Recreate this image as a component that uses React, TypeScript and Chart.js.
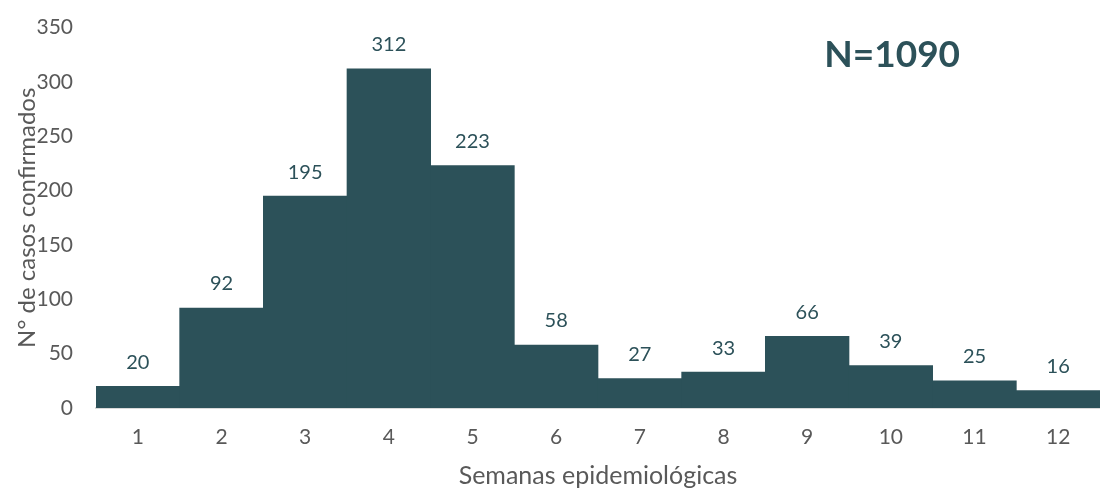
import React, { useEffect, useRef } from "react";
import { Chart, registerables } from "chart.js";

Chart.register(...registerables);

const weeks: string[] = ["1", "2", "3", "4", "5", "6", "7", "8", "9", "10", "11", "12"];
const cases: number[] = [20, 92, 195, 312, 223, 58, 27, 33, 66, 39, 25, 16];
const totalLabel = "N=1090";
const yTitle = "N° de casos confirmados";
const xTitle = "Semanas epidemiológicas";

const BAR = "#2C5159";
const GRAY = "#595959";
const FONT = "Lato, 'Open Sans', sans-serif";

const labelPlugin = {
  id: "valueLabels",
  afterDatasetsDraw(chart: any) {
    const { ctx } = chart;
    const meta = chart.getDatasetMeta(0);
    ctx.save();
    ctx.fillStyle = BAR;
    ctx.font = `20px ${FONT}`;
    ctx.textAlign = "center";
    ctx.textBaseline = "middle";
    meta.data.forEach((el: any, i: number) => {
      ctx.fillText(String(cases[i]), el.x, el.y - 24);
    });
    const area = chart.chartArea;
    ctx.font = `bold 37px ${FONT}`;
    ctx.fillText(totalLabel, area.left + (area.right - area.left) * 0.793, 55);
    ctx.restore();
  },
};

export default function App() {
  const ref = useRef<HTMLCanvasElement>(null);
  useEffect(() => {
    document.body.style.margin = "0";
    const chart = new Chart(ref.current!, {
      type: "bar",
      data: {
        labels: weeks,
        datasets: [
          {
            data: cases,
            backgroundColor: BAR,
            borderWidth: 0,
            barPercentage: 1,
            categoryPercentage: 1,
          },
        ],
      },
      options: {
        animation: false,
        responsive: false,
        maintainAspectRatio: false,
        layout: { padding: { top: 14, right: 0, left: 0, bottom: 0 } },
        plugins: { legend: { display: false }, tooltip: { enabled: false } },
        scales: {
          x: {
            grid: { display: false },
            border: { display: true, color: "#D9D9D9", width: 2 },
            ticks: { color: GRAY, font: { family: FONT, size: 21 }, padding: 9 },
            title: {
              display: true,
              text: xTitle,
              color: GRAY,
              font: { family: FONT, size: 25 },
              padding: { top: 0, bottom: -2 },
            },
            afterFit: (s: any) => {
              s.height = 81;
            },
          },
          y: {
            min: 0,
            max: 350,
            grid: { display: false },
            border: { display: false },
            ticks: { stepSize: 50, color: GRAY, font: { family: FONT, size: 21 }, padding: 15 },
            title: {
              display: true,
              text: yTitle,
              color: GRAY,
              font: { family: FONT, size: 24 },
              padding: { top: 13, bottom: 0 },
            },
            afterFit: (s: any) => {
              s.width = 96;
            },
          },
        },
      },
      plugins: [labelPlugin],
    });
    return () => chart.destroy();
  }, []);
  return (
    <div style={{ position: "fixed", left: 0, top: 0, width: 1100, height: 489 }}>
      <canvas ref={ref} width={1100} height={489} />
    </div>
  );
}
